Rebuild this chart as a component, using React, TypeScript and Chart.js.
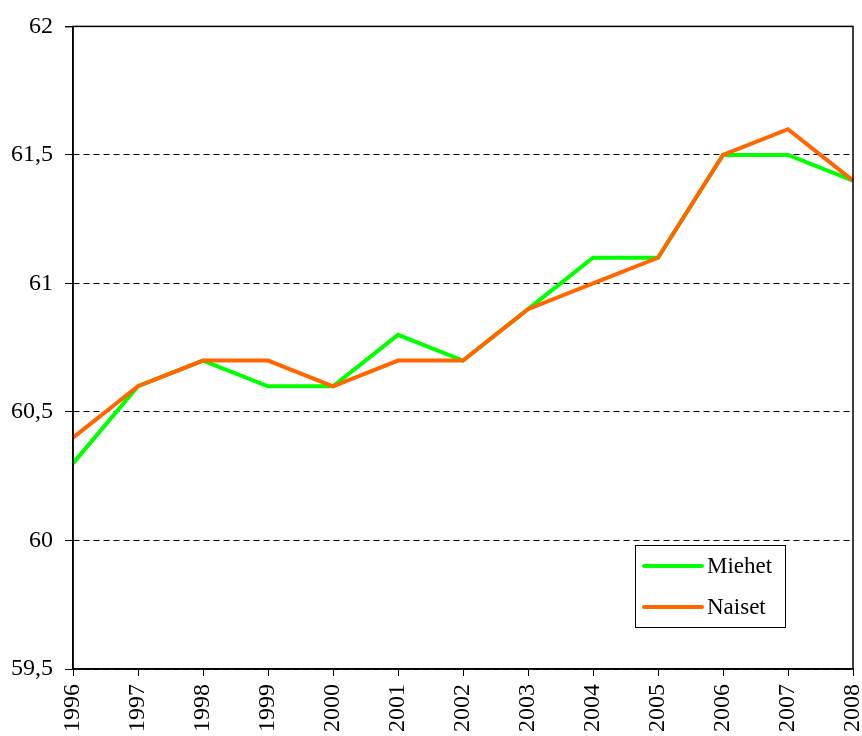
import React, { useEffect, useRef } from "react";
import { Chart, registerables } from "chart.js";

Chart.register(...registerables);

const years = ["1996", "1997", "1998", "1999", "2000", "2001", "2002", "2003", "2004", "2005", "2006", "2007", "2008"];
const miehet = [60.3, 60.6, 60.7, 60.6, 60.6, 60.8, 60.7, 60.9, 61.1, 61.1, 61.5, 61.5, 61.4];
const naiset = [60.4, 60.6, 60.7, 60.7, 60.6, 60.7, 60.7, 60.9, 61.0, 61.1, 61.5, 61.6, 61.4];
const seriesNames = ["Miehet", "Naiset"];
const seriesColors = ["#00ff00", "#ff6600"];

const FONT = "'Liberation Serif', 'Times New Roman', serif";

const framePlugin = {
  id: "frameAndLegend",
  afterDraw(chart: any) {
    const { ctx, chartArea } = chart;
    const { left, right, top, bottom } = chartArea;
    ctx.save();
    ctx.strokeStyle = "#000";
    ctx.lineWidth = 1.5;
    ctx.setLineDash([]);
    ctx.strokeRect(left, top, right - left, bottom - top);
    // top tick at 62
    ctx.lineWidth = 1;
    ctx.beginPath();
    ctx.moveTo(left - 8, top + 0.5);
    ctx.lineTo(left, top + 0.5);
    ctx.stroke();

    // legend box
    const bx = right - 218;
    const by = bottom - 124;
    const bw = 150;
    const bh = 82;
    ctx.fillStyle = "#fff";
    ctx.fillRect(bx, by, bw, bh);
    ctx.strokeStyle = "#000";
    ctx.lineWidth = 1;
    ctx.strokeRect(bx + 0.5, by + 0.5, bw, bh);
    ctx.font = "23px " + FONT;
    ctx.textBaseline = "middle";
    ctx.textAlign = "left";
    seriesNames.forEach((name, i) => {
      const y = by + 21 + i * 41;
      ctx.strokeStyle = seriesColors[i];
      ctx.lineWidth = 4;
      ctx.lineCap = "round";
      ctx.beginPath();
      ctx.moveTo(bx + 9, y);
      ctx.lineTo(bx + 67, y);
      ctx.stroke();
      ctx.fillStyle = "#000";
      ctx.fillText(name, bx + 72, y + 1);
    });
    ctx.restore();
  },
};

export default function App() {
  const ref = useRef<HTMLCanvasElement>(null);
  useEffect(() => {
    document.body.style.margin = "0";
    const chart = new Chart(ref.current!, {
      type: "line",
      data: {
        labels: years,
        datasets: [
          {
            label: seriesNames[0],
            data: miehet,
            borderColor: seriesColors[0],
            borderWidth: 4,
            pointRadius: 0,
            tension: 0,
            order: 2,
          },
          {
            label: seriesNames[1],
            data: naiset,
            borderColor: seriesColors[1],
            borderWidth: 4,
            pointRadius: 0,
            tension: 0,
            order: 1,
          },
        ],
      },
      options: {
        animation: false,
        responsive: false,
        layout: { padding: { left: 0, right: 9, top: 26, bottom: 0 } },
        plugins: { legend: { display: false }, tooltip: { enabled: false } },
        scales: {
          x: {
            offset: false,
            grid: {
              drawOnChartArea: false,
              drawTicks: true,
              tickLength: 7,
              color: "#000",
              offset: false,
            },
            border: { display: true, color: "#000", width: 1.5 },
            ticks: {
              color: "#000",
              font: { family: FONT, size: 24 },
              minRotation: 90,
              maxRotation: 90,
              autoSkip: false,
              padding: 8,
            },
            afterFit(scale: any) {
              scale.height = 67;
              scale.paddingLeft = 0;
              scale.paddingRight = 0;
            },
          },
          y: {
            min: 59.5,
            max: 62,
            grid: {
              color: "#000",
              lineWidth: 1,
              tickLength: 8,
              tickColor: "#000",
              tickBorderDash: [],
            },
            border: { display: true, color: "#000", width: 1.5, dash: [6, 4] },
            ticks: {
              stepSize: 0.5,
              color: "#000",
              padding: 12,
              font: { family: FONT, size: 24 },
              callback: (v: any) => String(v).replace(".", ","),
            },
            afterFit(scale: any) {
              scale.width = 73;
            },
          },
        },
      },
      plugins: [framePlugin],
    });
    return () => chart.destroy();
  }, []);
  return <canvas ref={ref} width={862} height={736} style={{ display: "block" }} />;
}
